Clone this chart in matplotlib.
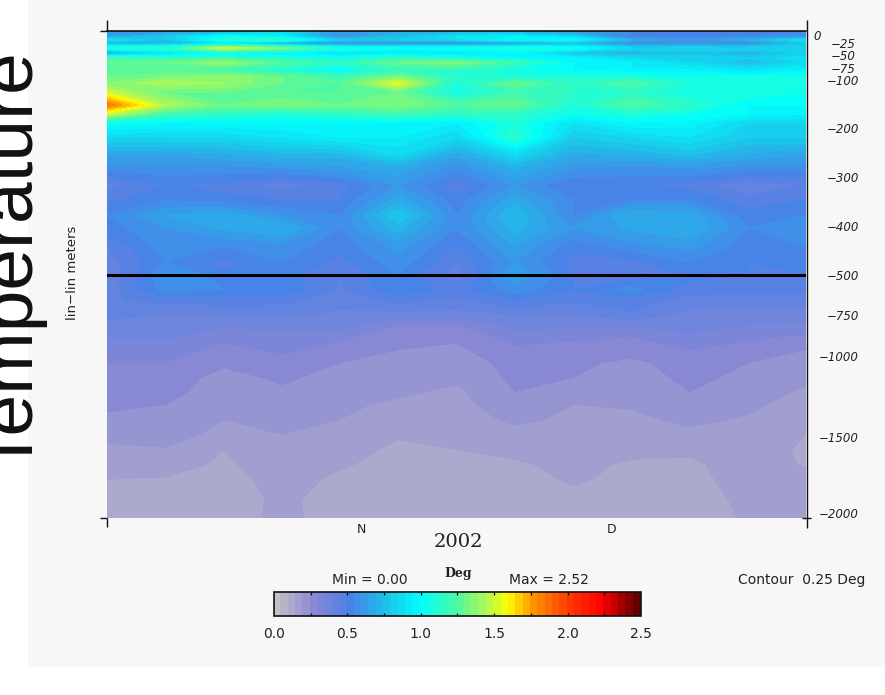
import numpy as np
import matplotlib
matplotlib.use("Agg")
import matplotlib.pyplot as plt
from matplotlib.colors import LinearSegmentedColormap, BoundaryNorm
from matplotlib.lines import Line2D
from matplotlib.patches import Rectangle
from matplotlib.ticker import NullLocator
from matplotlib.transforms import ScaledTranslation

W, H = 885, 695

days = [0, 7, 14, 21, 28, 35, 42, 49, 56, 63, 70, 77, 84]
month_ticks = [30.6, 60.6]
month_labels = ["N", "D"]
depth_ticks = [0, 25, 50, 75, 100, 200, 300, 400, 500, 750, 1000, 1500, 2000]
depth_labels = ["0", "\u221225", "\u221250", "\u221275", "\u2212100", "\u2212200", "\u2212300",
                "\u2212400", "\u2212500", "\u2212750", "\u22121000", "\u22121500", "\u22122000"]
cbar_ticks = [0.0, 0.5, 1.0, 1.5, 2.0, 2.5]

d0 = [.60,.65,.75,.85,.60,.70,.75,.75,.65,.55,.55,.55,.55]
d4 = [.60,.65,.75,.88,.60,.70,.75,.75,.65,.55,.55,.55,.55]
d12 = [.65,.80,1.05,.95,.55,.75,.90,.95,.85,.48,.50,.55,.60]
d18 = [.90,.75,1.10,1.15,.80,.80,.85,1.0,1.0,.70,.60,.70,.90]
d25 = [.70,.70,.85,.60,.50,.50,.50,.55,.70,.50,.55,.50,.75]
d35 = [1.10,1.15,1.50,1.35,1.10,1.05,1.05,1.10,1.05,.85,.85,.85,.85]
d45 = [.60,.85,1.0,.95,.85,.90,.90,.95,.75,.70,.75,.70,.80]
d55 = [1.20,1.15,1.15,1.10,1.05,1.15,1.05,1.0,.95,.85,.85,.80,.90]
d65 = [1.30,1.30,1.40,1.25,1.15,1.30,1.35,1.20,1.0,.95,.85,.75,.85]
d80 = [1.25,1.25,1.20,1.10,1.0,1.15,1.15,1.05,1.0,.95,.95,.90,.95]
d95 = [1.30,1.35,1.40,1.30,1.20,1.35,1.15,1.10,1.10,1.10,1.05,1.05,1.05]
d107 = [1.35,1.45,1.40,1.30,1.25,1.55,1.10,1.30,1.15,1.25,1.10,1.10,1.10]
d125 = [1.50,1.30,1.30,1.25,1.25,1.30,1.05,1.20,1.15,1.15,1.05,1.10,1.05]
d152 = [1.85,1.45,1.30,1.35,1.30,1.35,1.25,1.30,1.10,1.25,1.15,1.0,1.0]
d170 = [1.50,1.20,1.15,1.10,1.15,1.20,1.15,1.15,1.05,1.10,1.05,1.0,.95]
d187 = [1.05,1.0,1.0,1.0,1.0,1.0,.95,1.10,.90,1.0,.98,.85,.85]
d218 = [.85,.85,.85,.90,.95,.95,.85,1.15,.80,.85,.90,.80,.80]
d255 = [.65,.65,.68,.72,.72,.85,.66,.85,.68,.70,.75,.68,.65]
d276 = [.58,.60,.60,.62,.65,.70,.58,.72,.62,.60,.62,.60,.58]
d317 = [.43,.50,.48,.42,.48,.60,.47,.60,.50,.50,.48,.40,.45]
d348 = [.48,.55,.52,.50,.50,.68,.52,.68,.55,.55,.55,.47,.50]
d379 = [.55,.65,.68,.60,.55,.80,.55,.75,.55,.70,.68,.52,.55]
d405 = [.52,.60,.66,.70,.55,.72,.55,.72,.60,.66,.70,.55,.58]
d440 = [.45,.58,.55,.58,.52,.62,.50,.65,.52,.58,.62,.52,.55]
d475 = [.42,.55,.48,.55,.48,.58,.45,.60,.48,.48,.55,.50,.52]
d500 = [.40,.60,.52,.52,.45,.55,.42,.65,.50,.45,.52,.50,.50]
d592 = [.42,.57,.55,.55,.44,.55,.47,.58,.50,.57,.47,.46,.46]
d654 = [.44,.47,.48,.47,.42,.47,.44,.50,.46,.48,.43,.43,.43]
d746 = [.41,.40,.40,.41,.39,.38,.38,.40,.40,.44,.38,.38,.38]
d807 = [.39,.38,.36,.36,.38,.30,.30,.37,.37,.36,.38,.35,.34]
d881 = [.36,.36,.32,.34,.31,.27,.26,.32,.31,.30,.34,.31,.29]
d961 = [.33,.33,.28,.31,.28,.25,.24,.29,.28,.27,.30,.28,.25]
d1041 = [.30,.30,.26,.28,.25,.24,.22,.27,.26,.24,.27,.25,.24]
d1133 = [.28,.28,.23,.26,.23,.22,.21,.26,.25,.23,.26,.24,.22]
d1219 = [.27,.27,.22,.24,.22,.21,.19,.25,.23,.22,.25,.23,.19]
d1299 = [.26,.25,.21,.23,.21,.19,.185,.23,.20,.205,.23,.21,.18]
d1391 = [.24,.25,.20,.215,.20,.175,.175,.21,.19,.19,.21,.195,.165]
d1483 = [.215,.23,.18,.20,.185,.155,.16,.185,.175,.18,.19,.185,.15]
d1576 = [.19,.195,.15,.19,.17,.14,.15,.16,.165,.16,.16,.18,.14]
d1668 = [.17,.175,.14,.18,.155,.135,.14,.145,.16,.145,.14,.175,.145]
d1760 = [.15,.145,.13,.17,.14,.13,.135,.135,.155,.14,.135,.17,.16]
d1883 = [.135,.13,.125,.16,.13,.125,.13,.13,.14,.135,.13,.16,.165]
d2000 = [.125,.125,.12,.165,.125,.115,.125,.125,.13,.13,.125,.155,.18]

depths = [0, 4, 12, 18, 25, 35, 45, 55, 65, 80, 95, 107, 125, 152, 170, 187, 218, 255, 276,
          317, 348, 379, 405, 440, 475, 500, 592, 654, 746, 807, 881, 961, 1041, 1133,
          1219, 1299, 1391, 1483, 1576, 1668, 1760, 1883, 2000]
rows = [d0, d4, d12, d18, d25, d35, d45, d55, d65, d80, d95, d107, d125, d152, d170, d187,
        d218, d255, d276, d317, d348, d379, d405, d440, d475, d500, d592, d654, d746, d807,
        d881, d961, d1041, d1133, d1219, d1299, d1391, d1483, d1576, d1668, d1760, d1883, d2000]

cmap = LinearSegmentedColormap.from_list("ferret", [
    (0.0, "#c0c0c8"), (0.1, "#8a88d4"), (0.2, "#4a80e8"), (0.3, "#1ec0e8"), (0.4, "#00ffff"),
    (0.5, "#50f8a0"), (0.6, "#c8f840"), (0.64, "#ffff00"), (0.7, "#ffa000"), (0.8, "#ff4000"),
    (0.9, "#ff0000"), (1.0, "#600000")], N=256)
levels = np.arange(0, 2.5001, 0.05)
norm = BoundaryNorm(levels, cmap.N)


def px_axes(fig, x0, y0, x1, y1):
    return fig.add_axes([x0 / W, 1 - y1 / H, (x1 - x0) / W, (y1 - y0) / H])


def seg(fig, x0, y0, x1, y1, lw=1.0, color="#111111"):
    fig.add_artist(Line2D([x0 / W, x1 / W], [1 - y0 / H, 1 - y1 / H], lw=lw, color=color,
                          transform=fig.transFigure, solid_capstyle="butt"))


def txt(fig, x, y, s, **kw):
    fig.text(x / W, 1 - y / H, s, ha=kw.pop("ha", "center"), va=kw.pop("va", "center"),
             color=kw.pop("color", "#222222"), **kw)


fig = plt.figure(figsize=(W / 100, H / 100), dpi=100, facecolor="white")
fig.add_artist(Rectangle((28 / W, 1 - 667 / H), (W - 28) / W, 667 / H,
                         transform=fig.transFigure, fc="#f7f7f7", ec="none", zorder=-5))

ax = px_axes(fig, 107, 31, 806, 518)
ax.set_facecolor("none")
ax.set_yscale("function", functions=(
    lambda d: np.where(np.asarray(d) <= 500, np.asarray(d) * 1.0, 500 + (np.asarray(d) - 500) / 3.0),
    lambda p: np.where(np.asarray(p) <= 500, np.asarray(p) * 1.0, 500 + (np.asarray(p) - 500) * 3.0)))
cf = ax.contourf(days, depths, np.array(rows), levels=levels, cmap=cmap, norm=norm)
cf.set_edgecolor("face")
cf.set_linewidth(0.4)
ax.axhline(500, color="black", lw=2.2)
ax.set_xlim(0, 84)
ax.set_ylim(2000, 0)
for s in ["left", "bottom", "right"]:
    ax.spines[s].set_visible(False)
ax.spines["top"].set_linewidth(1.1)
ax.set_xticks(month_ticks, month_labels, fontsize=9)
ax.set_yticks(depth_ticks, depth_labels, fontsize=8.5, style="oblique", color="#222222")
ax.yaxis.set_minor_locator(NullLocator())
ax.tick_params(axis="x", length=0, pad=3.5, labelcolor="#222222")
ax.tick_params(axis="y", length=0, left=False, right=False, labelleft=False, labelright=True, pad=38)
for d, t in zip(depth_ticks, ax.yaxis.get_major_ticks()):
    lab = t.label2
    lab.set_ha("right")
    dx, dy = 0, 0
    if d == 0:
        lab.set_ha("left")
        dx, dy = -45, -4
    elif d == 2000:
        dy = 5
    elif d in (25, 50, 75):
        dx = -3
    lab.set_transform(lab.get_transform() + ScaledTranslation(dx / 100, dy / 100, fig.dpi_scale_trans))

seg(fig, 806.5, 20, 806.5, 528)
seg(fig, 100, 31, 107, 31)
seg(fig, 107, 20, 107, 31)
seg(fig, 100, 518, 107, 518)
seg(fig, 107, 518, 107, 527)
seg(fig, 802, 518, 811, 518)

cax = px_axes(fig, 274, 592, 641, 616)
cb = fig.colorbar(cf, cax=cax, orientation="horizontal", drawedges=False)
cb.solids.set_edgecolor("face")
cb.minorticks_off()
cb.set_ticks(cbar_ticks, labels=[f"{v:.1f}" for v in cbar_ticks])
cb.ax.tick_params(axis="x", length=0, pad=8, labelsize=10, labelcolor="#222222")
cb.outline.set_linewidth(1.2)
cb.outline.set_edgecolor("#111111")
for v in np.arange(0.25, 2.5, 0.25):
    xp = 274 + v / 2.5 * 367
    seg(fig, xp, 592, xp, 595, lw=0.9)
    seg(fig, xp, 613, xp, 616, lw=0.9)

txt(fig, 458, 542, "2002", fontsize=14, family="DejaVu Serif")
txt(fig, 370, 580, "Min = 0.00", fontsize=10)
txt(fig, 549, 580, "Max = 2.52", fontsize=10)
txt(fig, 458, 574, "Deg", fontsize=9, family="DejaVu Serif", weight="bold")
txt(fig, 802, 580, "Contour  0.25 Deg", fontsize=10)
txt(fig, 73, 273, "lin\u2212lin meters", fontsize=9.5, rotation=90)
fig.text(46 / W, 1 - 471 / H, "Temperature", family="Liberation Sans", fontsize=54, rotation=90,
         ha="left", va="bottom", rotation_mode="anchor", color="#111111")

fig.savefig("out.png", dpi=100, facecolor=fig.get_facecolor())
